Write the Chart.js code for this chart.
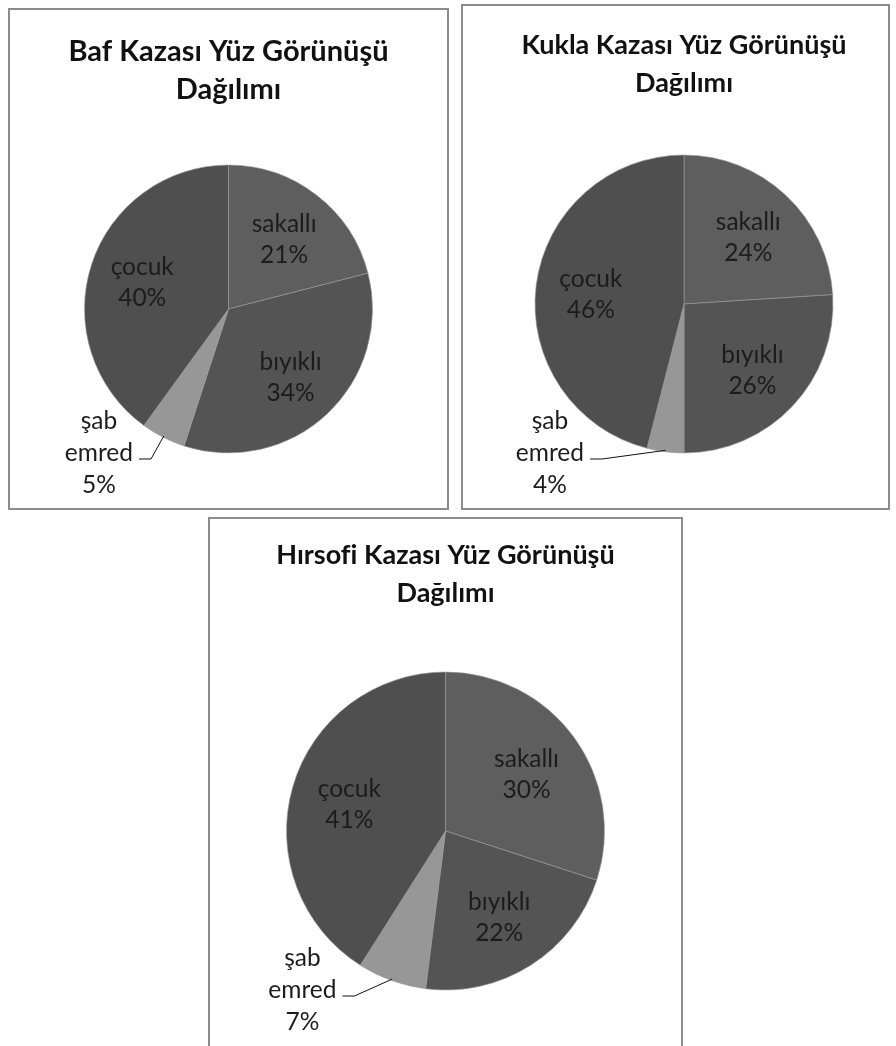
<!DOCTYPE html>
<html lang="tr">
<head>
<meta charset="utf-8">
<title>Yüz Görünüşü Dağılımı</title>
<script src="https://cdn.jsdelivr.net/npm/chart.js@4.4.1/dist/chart.umd.min.js"></script>
<style>
    body {
        margin: 0;
        width: 896px;
        height: 1046px;
        overflow: hidden;
        position: relative;
        background: #fff;
    }
    .box {
        position: absolute;
        box-sizing: border-box;
        border: 2px solid #8c8c8c;
        background: #fff;
    }
    .box canvas { display: block; }
</style>
</head>
<body>
<div class="box" style="left:8px;top:8px;width:441px;height:502px">
    <canvas id="bafChart" width="437" height="498"></canvas>
</div>
<div class="box" style="left:461px;top:4px;width:429px;height:506px">
    <canvas id="kuklaChart" width="425" height="502"></canvas>
</div>
<div class="box" style="left:208px;top:517px;width:475px;height:560px">
    <canvas id="hirsofiChart" width="471" height="530"></canvas>
</div>
<script>
'use strict';

// Chart data
const categories = ['sakallı', 'bıyıklı', 'şab emred', 'çocuk'];
const bafValues = [21, 34, 5, 40];
const kuklaValues = [24, 26, 4, 46];
const hirsofiValues = [30, 22, 7, 41];
const bafTitle = ['Baf Kazası Yüz Görünüşü', 'Dağılımı'];
const kuklaTitle = ['Kukla Kazası Yüz Görünüşü', 'Dağılımı'];
const hirsofiTitle = ['Hırsofi Kazası Yüz Görünüşü', 'Dağılımı'];

const sliceColors = ['#5e5e5e', '#545454', '#979797', '#4f4f4f'];
const FONT = 'Lato, "Open Sans", sans-serif';

// Draws Excel-style data labels (name + percent), small slices go outside with a leader line
const sliceLabels = {
    id: 'sliceLabels',
    afterDatasetsDraw(chart) {
        const ctx = chart.ctx;
        const meta = chart.getDatasetMeta(0);
        const values = chart.data.datasets[0].data;
        const total = values.reduce((a, b) => a + b, 0);
        const gap = 31;

        ctx.save();
        ctx.font = `24.5px ${FONT}`;
        ctx.textAlign = 'center';
        ctx.textBaseline = 'middle';
        ctx.fillStyle = '#1c1c1c';

        meta.data.forEach((arc, i) => {
            const { x, y, startAngle, endAngle, outerRadius } =
                arc.getProps(['x', 'y', 'startAngle', 'endAngle', 'outerRadius'], true);
            const mid = (startAngle + endAngle) / 2;
            const name = chart.data.labels[i];
            const pct = Math.round(values[i] / total * 100) + '%';

            if (values[i] / total >= 0.1) {
                const lx = x + Math.cos(mid) * outerRadius * 0.63;
                const ly = y + Math.sin(mid) * outerRadius * 0.63 + 2;
                ctx.fillText(name, lx, ly - gap / 2);
                ctx.fillText(pct, lx, ly + gap / 2);
                return;
            }

            // outside label, wrapped on spaces
            const words = name.split(' ');
            const lines = words.concat([pct]);
            const ax = x - outerRadius * 0.9;
            const ay = y + outerRadius;
            const last = words.length - 1;
            lines.forEach((t, k) => ctx.fillText(t, ax, ay + (k - last) * 32));

            // leader line
            const w = ctx.measureText(words[last]).width;
            const sx = ax + w / 2 + 6;
            const sy = ay + 6;
            ctx.beginPath();
            ctx.moveTo(sx, sy);
            ctx.lineTo(sx + 12, sy);
            ctx.lineTo(x + Math.cos(mid) * outerRadius * 0.99, y + Math.sin(mid) * outerRadius * 0.99);
            ctx.strokeStyle = '#111';
            ctx.lineWidth = 1;
            ctx.stroke();
        });
        ctx.restore();
    }
};

// Build one pie chart
function makePie(id, title, values, radius, titleSize, pad, titlePad) {
    const ctx = document.getElementById(id);
    return new Chart(ctx.getContext('2d'), {
        type: 'pie',
        data: {
            labels: categories,
            datasets: [{
                data: values,
                backgroundColor: sliceColors,
                borderColor: '#9a9a9a',
                borderWidth: 0.6,
                hoverOffset: 0,
                radius: radius
            }]
        },
        options: {
            responsive: false,
            animation: false,
            events: [],
            layout: { padding: pad },
            plugins: {
                legend: { display: false },
                tooltip: { enabled: false },
                title: {
                    display: true,
                    text: title,
                    color: '#111',
                    font: { family: FONT, size: titleSize, weight: 'bold', lineHeight: '38px' },
                    padding: titlePad
                }
            }
        },
        plugins: [sliceLabels]
    });
}

makePie('bafChart', bafTitle, bafValues, 144, 29,
    { left: 0, right: 0, top: 0, bottom: 55 }, { top: 23, bottom: 56 });
makePie('kuklaChart', kuklaTitle, kuklaValues, 149, 27,
    { left: 17, right: 0, top: 0, bottom: 55 }, { top: 20, bottom: 53 });
makePie('hirsofiChart', hirsofiTitle, hirsofiValues, 159, 27,
    { left: 0, right: 0, top: 0, bottom: 59 }, { top: 17, bottom: 60 });
</script>
</body>
</html>
